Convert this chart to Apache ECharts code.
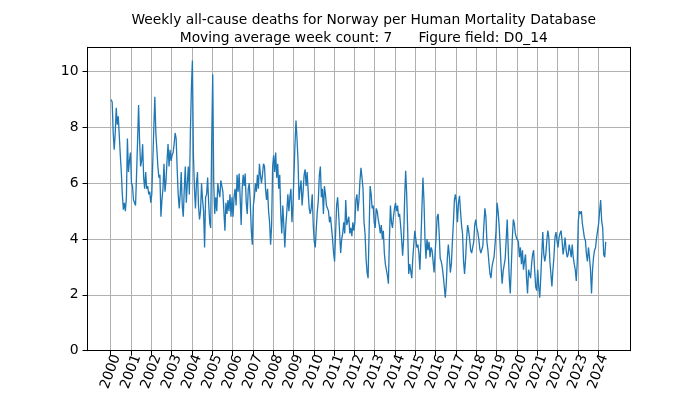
<!DOCTYPE html>
<html><head><meta charset="utf-8">
<script src="https://cdn.jsdelivr.net/npm/echarts@6/dist/echarts.min.js"></script>
<style>html,body{margin:0;padding:0;background:#fff}#c{width:700px;height:394px}</style>
</head><body><div id="c"></div>
<script>
const titleLine1 = "Weekly all-cause deaths for Norway per Human Mortality Database";
const titleLine2 = "Moving average week count: 7      Figure field: D0_14";
const years = [2000,2001,2002,2003,2004,2005,2006,2007,2008,2009,2010,2011,2012,2013,2014,2015,2016,2017,2018,2019,2020,2021,2022,2023,2024];
const yearLabels = years.map(String);
const yTicks = [0,2,4,6,8,10];
const samplesPerYear = 20;

const d2000 = [9.0, 8.9, 7.8, 7.2, 7.8, 8.7, 8.1, 8.4, 7.7, 7.0, 6.4, 5.6, 5.05, 5.3, 5.0, 5.5, 7.6, 6.4, 6.8, 7.1];
const d2001 = [6.0, 5.9, 5.4, 5.3, 5.2, 6.3, 7.5, 8.8, 7.5, 6.6, 6.8, 7.4, 6.2, 5.8, 6.4, 5.8, 5.9, 5.6, 5.7, 5.3];
const d2002 = [5.6, 6.8, 8.0, 9.1, 7.8, 7.2, 6.6, 6.2, 6.3, 4.8, 5.4, 5.8, 6.7, 5.7, 6.1, 6.8, 7.4, 6.6, 7.2, 6.8];
const d2003 = [7.0, 7.1, 7.4, 7.8, 7.6, 6.5, 5.6, 5.1, 5.6, 6.4, 5.2, 4.8, 5.8, 6.6, 5.3, 6.0, 6.6, 5.6, 7.8, 9.4];
const d2004 = [10.4, 7.0, 5.8, 5.1, 6.0, 6.4, 5.2, 4.7, 5.0, 6.0, 5.4, 5.0, 3.7, 5.5, 5.6, 6.2, 5.3, 4.6, 4.4, 7.5];
const d2005 = [9.9, 6.0, 4.9, 5.5, 5.0, 6.0, 5.7, 5.5, 6.1, 6.1, 5.7, 5.0, 4.3, 5.3, 4.9, 5.4, 5.0, 5.6, 4.8, 5.5];
const d2006 = [4.8, 5.5, 5.8, 5.2, 6.3, 5.7, 6.35, 5.5, 4.5, 5.8, 6.3, 5.9, 6.35, 5.3, 4.9, 5.8, 6.0, 5.3, 4.3, 3.8];
const d2007 = [5.2, 5.5, 6.0, 5.7, 6.3, 5.8, 6.7, 6.3, 6.0, 6.3, 6.7, 6.6, 5.8, 5.4, 5.8, 5.0, 4.6, 3.8, 4.5, 6.6];
const d2008 = [7.0, 6.4, 7.1, 6.2, 6.7, 5.8, 6.3, 4.9, 4.2, 5.2, 4.5, 3.7, 4.5, 5.0, 5.6, 5.0, 5.5, 5.8, 4.6, 5.2];
const d2009 = [6.3, 7.4, 8.25, 7.6, 6.8, 5.4, 5.8, 6.1, 5.2, 5.7, 6.3, 6.5, 5.9, 6.4, 5.7, 5.1, 4.9, 5.1, 5.6, 4.5];
const d2010 = [3.9, 3.7, 4.4, 5.0, 5.4, 6.3, 6.6, 5.5, 5.8, 4.9, 5.9, 5.6, 5.2, 5.2, 5.0, 4.6, 4.8, 4.4, 4.0, 3.5];
const d2011 = [3.2, 4.2, 5.2, 5.5, 4.9, 4.2, 3.5, 4.0, 4.2, 4.6, 4.2, 5.4, 4.5, 4.5, 4.8, 4.2, 4.4, 4.1, 4.6, 4.3];
const d2012 = [4.6, 5.4, 5.6, 5.0, 5.4, 6.1, 6.55, 6.2, 5.8, 4.6, 4.2, 3.3, 2.8, 2.6, 4.3, 5.9, 5.6, 5.1, 5.2, 4.6];
const d2013 = [4.4, 5.1, 5.0, 4.7, 4.5, 4.2, 4.5, 4.0, 4.3, 3.5, 3.1, 2.9, 2.7, 2.4, 4.0, 5.2, 4.6, 4.4, 4.8, 5.1];
const d2014 = [5.3, 5.0, 5.2, 4.8, 4.9, 4.5, 4.0, 3.4, 4.0, 5.5, 6.45, 5.6, 4.3, 2.75, 3.1, 2.85, 2.6, 3.3, 3.8, 4.3];
const d2015 = [4.0, 3.7, 3.8, 3.5, 2.9, 3.9, 5.1, 6.2, 5.4, 4.0, 3.3, 4.0, 3.6, 3.9, 3.35, 3.7, 3.6, 3.2, 2.8, 3.5];
const d2016 = [4.1, 4.8, 4.9, 4.2, 3.3, 3.2, 3.0, 2.7, 2.3, 1.9, 2.4, 3.3, 3.8, 3.4, 2.8, 3.1, 3.9, 4.6, 5.4, 5.6];
const d2017 = [5.3, 4.6, 5.3, 5.55, 5.0, 4.5, 4.2, 3.2, 2.75, 3.3, 4.0, 4.5, 4.3, 4.0, 3.6, 3.5, 3.7, 3.9, 4.5, 4.7];
const d2018 = [4.4, 4.25, 4.0, 3.65, 3.5, 3.5, 3.75, 4.5, 5.1, 4.8, 3.9, 3.6, 3.15, 2.75, 2.6, 3.0, 3.2, 3.35, 3.8, 4.3];
const d2019 = [5.3, 5.0, 4.5, 3.8, 3.0, 2.4, 2.85, 2.9, 3.3, 4.0, 4.7, 3.6, 2.6, 2.05, 3.0, 4.0, 4.7, 4.55, 4.2, 4.05];
const d2020 = [4.05, 3.9, 3.35, 3.7, 3.1, 3.6, 2.9, 3.2, 3.45, 2.6, 2.05, 2.9, 2.9, 2.6, 3.1, 3.45, 3.6, 2.9, 2.3, 2.15];
const d2021 = [2.9, 2.3, 1.9, 2.6, 3.45, 4.25, 3.45, 3.2, 3.45, 3.95, 4.3, 4.05, 3.2, 2.75, 2.3, 2.9, 3.35, 4.05, 4.25, 3.95];
const d2022 = [3.7, 4.05, 4.2, 4.3, 3.95, 3.45, 3.7, 4.05, 3.6, 3.35, 3.45, 3.8, 3.6, 3.35, 3.8, 3.35, 3.1, 2.9, 2.5, 3.2];
const d2023 = [4.65, 5.0, 4.9, 5.0, 4.55, 4.3, 4.05, 3.95, 3.45, 3.2, 3.7, 3.35, 2.9, 2.05, 2.9, 3.35, 3.6, 3.7, 4.05, 4.3];
const d2024 = [4.55, 5.0, 5.4, 4.65, 4.4, 3.45, 3.35, 3.9];

const perYear = [d2000,d2001,d2002,d2003,d2004,d2005,d2006,d2007,d2008,d2009,d2010,d2011,d2012,d2013,d2014,d2015,d2016,d2017,d2018,d2019,d2020,d2021,d2022,d2023,d2024];
const seriesData = [];
years.forEach((yr, k) => {
  perYear[k].forEach((v, i) => seriesData.push([yr + (i + 0.5) / samplesPerYear, v]));
});

const FONT = 'DejaVu Sans';
const X_MIN = 1998.86, X_MAX = 2025.57, Y_MAX = 10.87;
const chart = echarts.init(document.getElementById('c'), null, {renderer: 'canvas'});
chart.setOption({
  animation: false,
  backgroundColor: '#ffffff',
  title: {
    text: titleLine1 + '\n' + titleLine2,
    left: 358.75, top: 7, textAlign: 'center',
    textStyle: {fontFamily: FONT, fontSize: 13.8, fontWeight: 'normal', color: '#000', lineHeight: 17.5}
  },
  grid: {left: 87.5, right: 70, top: 47.3, bottom: 43.3, containLabel: false},
  xAxis: [{
    type: 'value', min: X_MIN, max: X_MAX,
    axisLine: {show: true, onZero: false, lineStyle: {color: '#000', width: 1}},
    axisTick: {show: true, inside: false, length: 5, customValues: years, lineStyle: {color: '#000', width: 1}},
    axisLabel: {
      customValues: years, rotate: 70, align: 'center', verticalAlign: 'middle', margin: 21,
      fontFamily: FONT, fontSize: 13.9, color: '#000',
      formatter: v => yearLabels[years.indexOf(Math.round(v))]
    },
    splitLine: {show: true, lineStyle: {color: '#b0b0b0', width: 1}}
  }, {
    type: 'value', position: 'top', min: X_MIN, max: X_MAX,
    axisLine: {show: true, onZero: false, lineStyle: {color: '#000', width: 1}},
    axisTick: {show: false}, axisLabel: {show: false}, splitLine: {show: false}
  }],
  yAxis: [{
    type: 'value', min: 0, max: Y_MAX, interval: 2,
    axisLine: {show: true, onZero: false, lineStyle: {color: '#000', width: 1}},
    axisTick: {show: true, inside: false, length: 5, customValues: yTicks, lineStyle: {color: '#000', width: 1}},
    axisLabel: {customValues: yTicks, margin: 9, fontFamily: FONT, fontSize: 13.9, color: '#000'},
    splitLine: {show: true, lineStyle: {color: '#b0b0b0', width: 1}}
  }, {
    type: 'value', position: 'right', min: 0, max: Y_MAX,
    axisLine: {show: true, onZero: false, lineStyle: {color: '#000', width: 1}},
    axisTick: {show: false}, axisLabel: {show: false}, splitLine: {show: false}
  }],
  series: [{
    type: 'line', xAxisIndex: 0, yAxisIndex: 0, data: seriesData,
    showSymbol: false, symbol: 'none',
    lineStyle: {color: '#1f77b4', width: 1.3},
    itemStyle: {color: '#1f77b4'}, z: 3
  }]
});
</script>
</body></html>
